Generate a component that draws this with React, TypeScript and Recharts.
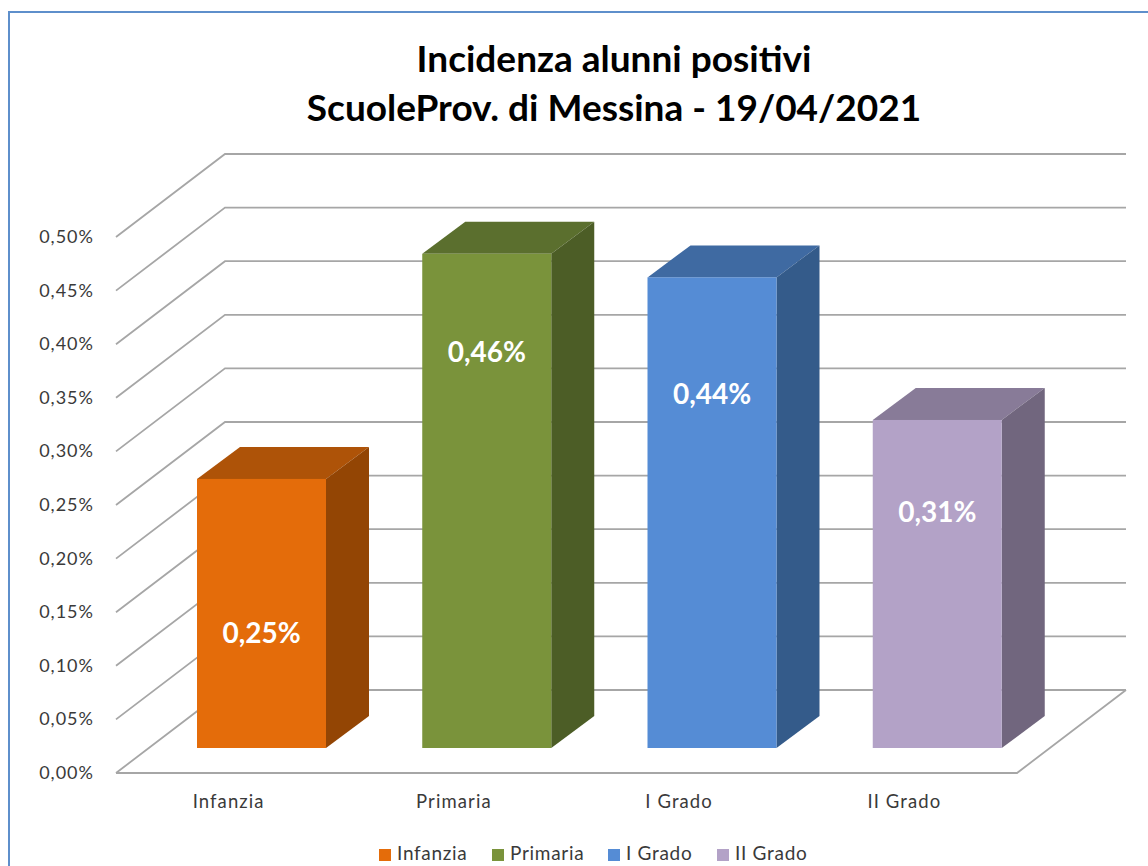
import React from 'react';
import { BarChart, Bar, XAxis, YAxis, Cell, Legend, LabelList, CartesianGrid } from 'recharts';

const categories = ['Infanzia', 'Primaria', 'I Grado', 'II Grado'];
const values = [0.251, 0.461, 0.439, 0.306];
const yTicks = [0, 0.05, 0.1, 0.15, 0.2, 0.25, 0.3, 0.35, 0.4, 0.45, 0.5];
const titleLines = ['Incidenza alunni positivi', 'ScuoleProv. di Messina - 19/04/2021'];

const frontColors = ['#E46C0A', '#7A933B', '#558CD5', '#B3A2C7'];
const topColors = ['#AE5308', '#5B6F2E', '#3F6AA2', '#887B98'];
const sideColors = ['#934504', '#4C5D26', '#345B8A', '#71667E'];
const labelDrop = [153, 97, 116, 91];
const legendLefts = [379, 492, 608, 717];

const FONT = 'Lato, Carlito, sans-serif';
const SHIFT_X = 33;
const SHIFT_Y = -25;
const DEPTH_X = 43;
const DEPTH_Y = -32;
const WALL_X = 109;
const WALL_Y = -83;
const GRID = '#A6A6A6';

const data = categories.map((name, i) => ({ name, value: values[i] }));
const pct = (v: number) => v.toFixed(2).replace('.', ',') + '%';

const Box3D = (props: any) => {
  const { x, y, width, height, index } = props;
  const l = x + SHIFT_X;
  const r = l + width;
  const t = y + SHIFT_Y;
  const b = t + height;
  return (
    <g>
      <polygon
        points={`${l},${t} ${l + DEPTH_X},${t + DEPTH_Y} ${r + DEPTH_X},${t + DEPTH_Y} ${r},${t}`}
        fill={topColors[index]}
      />
      <polygon
        points={`${r},${t} ${r + DEPTH_X},${t + DEPTH_Y} ${r + DEPTH_X},${b + DEPTH_Y} ${r},${b}`}
        fill={sideColors[index]}
      />
      <rect x={l} y={t} width={width} height={height} fill={frontColors[index]} />
    </g>
  );
};

const gridLine = (props: any) => {
  const { x1, x2, y1, y, height } = props;
  const isFloor = Math.abs(y1 - (y + height)) < 1;
  const backL = x1 + WALL_X;
  const backR = x2 + WALL_X;
  const backY = y1 + WALL_Y;
  return (
    <g key={props.key ?? y1}>
      <polyline points={`${x1},${y1} ${backL},${backY} ${backR},${backY}`} fill="none" stroke={GRID} strokeWidth={1.8} />
      {isFloor && (
        <polyline points={`${x1},${y1} ${x2},${y1} ${backR},${backY}`} fill="none" stroke={GRID} strokeWidth={1.8} />
      )}
    </g>
  );
};

const YTick = (props: any) => {
  const { x, y, payload } = props;
  return (
    <text x={x - 22} y={y - 1} textAnchor="end" dominantBaseline="central" fontFamily={FONT} fontSize={18} letterSpacing={1} fill="#3a3a3a">
      {pct(payload.value)}
    </text>
  );
};

const XTick = (props: any) => {
  const { x, y, payload } = props;
  return (
    <text x={x} y={y + 20} textAnchor="middle" dominantBaseline="central" fontFamily={FONT} fontSize={18.5} letterSpacing={1.1} fill="#3a3a3a">
      {payload.value}
    </text>
  );
};

const ValueLabel = (props: any) => {
  const { x, y, width, value, index } = props;
  return (
    <text
      x={x + SHIFT_X + width / 2}
      y={y + SHIFT_Y + labelDrop[index]}
      textAnchor="middle"
      dominantBaseline="central"
      fontFamily={FONT}
      fontWeight={700}
      fontSize={28}
      fill="#FFFFFF"
    >
      {pct(Number(value))}
    </text>
  );
};

const LegendContent = () => (
  <div style={{ position: 'relative', height: 24, fontFamily: FONT, fontSize: 19, letterSpacing: 0.7, color: '#3a3a3a', lineHeight: '24px' }}>
    {categories.map((c, i) => (
      <span key={c} style={{ position: 'absolute', left: legendLefts[i], top: 0, whiteSpace: 'nowrap' }}>
        <span style={{ display: 'inline-block', width: 12, height: 12, background: frontColors[i], marginRight: 6, verticalAlign: -1 }} />
        {c}
      </span>
    ))}
  </div>
);

export default function App() {
  return (
    <div style={{ position: 'absolute', left: 0, top: 0, width: 1148, height: 866, overflow: 'hidden', background: '#fff' }}>
      <div style={{ position: 'absolute', left: 8, top: 11, width: 1300, height: 1000, border: '2px solid #5E8FCB' }} />
      <div
        style={{
          position: 'absolute',
          left: 114,
          width: 1000,
          top: 33,
          textAlign: 'center',
          fontFamily: FONT,
          fontWeight: 700,
          fontSize: 37,
          lineHeight: '49px',
          color: '#000',
        }}
      >
        {titleLines.map((t) => (
          <div key={t}>{t}</div>
        ))}
      </div>
      <div style={{ position: 'absolute', left: 0, top: 0 }}>
        <BarChart width={1148} height={866} data={data} margin={{ top: 237, right: 131, bottom: 63, left: 36 }}>
          <CartesianGrid vertical={false} horizontal={gridLine} syncWithTicks />
          <XAxis dataKey="name" height={30} tickLine={false} axisLine={false} tick={<XTick />} interval={0} />
          <YAxis
            domain={[0, 0.5]}
            ticks={yTicks}
            width={80}
            tickLine={false}
            axisLine={false}
            tick={<YTick />}
            tickMargin={0}
            tickSize={0}
            interval={0}
          />
          <Legend
            content={<LegendContent />}
            layout="horizontal"
            verticalAlign="middle"
            wrapperStyle={{ top: 841, left: 0, width: 1148, height: 24 }}
          />
          <Bar dataKey="value" barSize={129} shape={<Box3D />} isAnimationActive={false}>
            {categories.map((c, i) => (
              <Cell key={c} fill={frontColors[i]} />
            ))}
            <LabelList dataKey="value" content={<ValueLabel />} />
          </Bar>
        </BarChart>
      </div>
    </div>
  );
}
